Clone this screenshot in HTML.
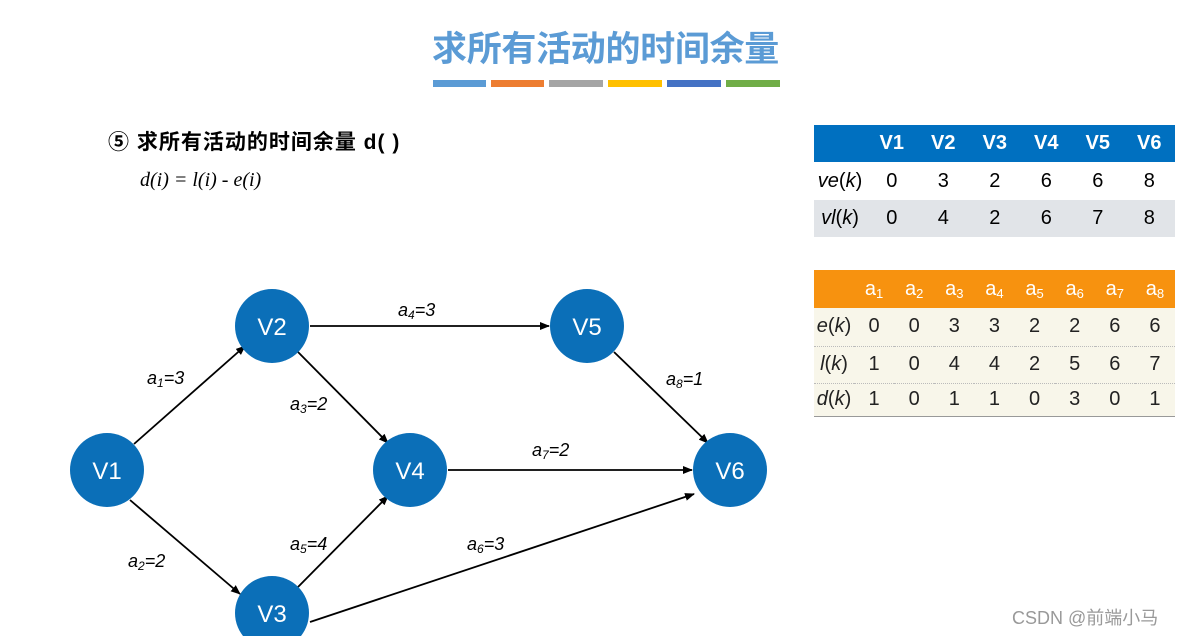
<!DOCTYPE html>
<html><head><meta charset="utf-8"><style>
body{margin:0;width:1202px;height:636px;background:#fff;overflow:hidden;position:relative;font-family:"Liberation Sans","Noto Sans CJK SC",sans-serif}
.t{position:absolute}
table{border-collapse:collapse;position:absolute;font-family:"Liberation Sans",sans-serif}
td{text-align:center;padding:0}
sub{font-size:13px;vertical-align:-3px}
</style></head><body>
<div class="t" style="left:432px;top:21px;font-size:35px;color:#5b9bd5;font-weight:bold;letter-spacing:-0.3px">求所有活动的时间余量</div>
<div class="t" style="left:433px;top:80px;width:53px;height:7px;background:#5b9bd5"></div>
<div class="t" style="left:491px;top:80px;width:53px;height:7px;background:#ed7d31"></div>
<div class="t" style="left:549px;top:80px;width:54px;height:7px;background:#a5a5a5"></div>
<div class="t" style="left:608px;top:80px;width:54px;height:7px;background:#ffc000"></div>
<div class="t" style="left:667px;top:80px;width:54px;height:7px;background:#4472c4"></div>
<div class="t" style="left:726px;top:80px;width:54px;height:7px;background:#70ad47"></div>
<div class="t" style="left:108px;top:126px;font-size:21px;font-weight:bold;color:#000;letter-spacing:1px">⑤ 求所有活动的时间余量 d( )</div>
<div class="t" style="left:140px;top:169px;font-size:20px;font-family:'Liberation Serif',serif;font-style:italic">d(i) = l(i) - e(i)</div>

<table style="left:814px;top:125px;width:361px;font-size:20px">
<tr style="height:37px;background:#0070c0;color:#fff;font-weight:bold"><td style="width:52px"></td><td>V1</td><td>V2</td><td>V3</td><td>V4</td><td>V5</td><td>V6</td></tr>
<tr style="height:38px;background:#fff"><td><i>ve</i>(<i>k</i>)</td><td>0</td><td>3</td><td>2</td><td>6</td><td>6</td><td>8</td></tr>
<tr style="height:37px;background:#e1e4e8"><td><i>vl</i>(<i>k</i>)</td><td>0</td><td>4</td><td>2</td><td>6</td><td>7</td><td>8</td></tr>
</table>

<table style="left:814px;top:270px;width:361px;font-size:20px;color:#222">
<tr style="height:38px;background:#f7920f;color:#fff"><td style="width:40px"></td><td>a<sub>1</sub></td><td>a<sub>2</sub></td><td>a<sub>3</sub></td><td>a<sub>4</sub></td><td>a<sub>5</sub></td><td>a<sub>6</sub></td><td>a<sub>7</sub></td><td>a<sub>8</sub></td></tr>
<tr style="height:38px;background:#f8f6ea;border-bottom:1px dotted #bbb"><td><i>e</i>(<i>k</i>)</td><td>0</td><td>0</td><td>3</td><td>3</td><td>2</td><td>2</td><td>6</td><td>6</td></tr>
<tr style="height:37px;background:#f8f6ea;border-bottom:1px dotted #bbb"><td><i>l</i>(<i>k</i>)</td><td>1</td><td>0</td><td>4</td><td>4</td><td>2</td><td>5</td><td>6</td><td>7</td></tr>
<tr style="height:33px;background:#f8f6ea;border-bottom:1px solid #999"><td><i>d</i>(<i>k</i>)</td><td>1</td><td>0</td><td>1</td><td>1</td><td>0</td><td>3</td><td>0</td><td>1</td></tr>
</table>

<svg class="t" style="left:0;top:0" width="1202" height="636">
<defs><marker id="a" markerWidth="10" markerHeight="8" refX="9" refY="4" orient="auto" markerUnits="userSpaceOnUse"><path d="M0,0 L10,4 L0,8 z" fill="#000"/></marker></defs>
<g stroke="#000" stroke-width="1.8" marker-end="url(#a)">
<line x1="134" y1="444" x2="245" y2="346"/>
<line x1="130" y1="500" x2="240" y2="594"/>
<line x1="310" y1="326" x2="549" y2="326"/>
<line x1="298" y1="352" x2="388" y2="443"/>
<line x1="298" y1="587" x2="388" y2="496"/>
<line x1="310" y1="622" x2="694" y2="494"/>
<line x1="448" y1="470" x2="692" y2="470"/>
<line x1="614" y1="352" x2="708" y2="443"/>
</g>
<g fill="#0b6fb8"><circle cx="107" cy="470" r="37"/><circle cx="272" cy="326" r="37"/><circle cx="272" cy="613" r="37"/><circle cx="410" cy="470" r="37"/><circle cx="587" cy="326" r="37"/><circle cx="730" cy="470" r="37"/></g>
<g fill="#fff" font-size="24" font-family="Liberation Sans,sans-serif" text-anchor="middle">
<text x="107" y="479">V1</text><text x="272" y="335">V2</text><text x="272" y="622">V3</text><text x="410" y="479">V4</text><text x="587" y="335">V5</text><text x="730" y="479">V6</text></g>
<g font-size="18" font-style="italic" font-family="Liberation Sans,sans-serif" fill="#000">
<text x="147" y="384">a<tspan font-size="12" dy="3">1</tspan><tspan dy="-3">=3</tspan></text>
<text x="128" y="567">a<tspan font-size="12" dy="3">2</tspan><tspan dy="-3">=2</tspan></text>
<text x="290" y="410">a<tspan font-size="12" dy="3">3</tspan><tspan dy="-3">=2</tspan></text>
<text x="398" y="316">a<tspan font-size="12" dy="3">4</tspan><tspan dy="-3">=3</tspan></text>
<text x="290" y="550">a<tspan font-size="12" dy="3">5</tspan><tspan dy="-3">=4</tspan></text>
<text x="467" y="550">a<tspan font-size="12" dy="3">6</tspan><tspan dy="-3">=3</tspan></text>
<text x="532" y="456">a<tspan font-size="12" dy="3">7</tspan><tspan dy="-3">=2</tspan></text>
<text x="666" y="385">a<tspan font-size="12" dy="3">8</tspan><tspan dy="-3">=1</tspan></text>
</g>
<text x="1012" y="624" font-size="18" fill="#999" font-family="Liberation Sans,Noto Sans CJK SC,sans-serif">CSDN @前端小马</text>
</svg>
</body></html>
